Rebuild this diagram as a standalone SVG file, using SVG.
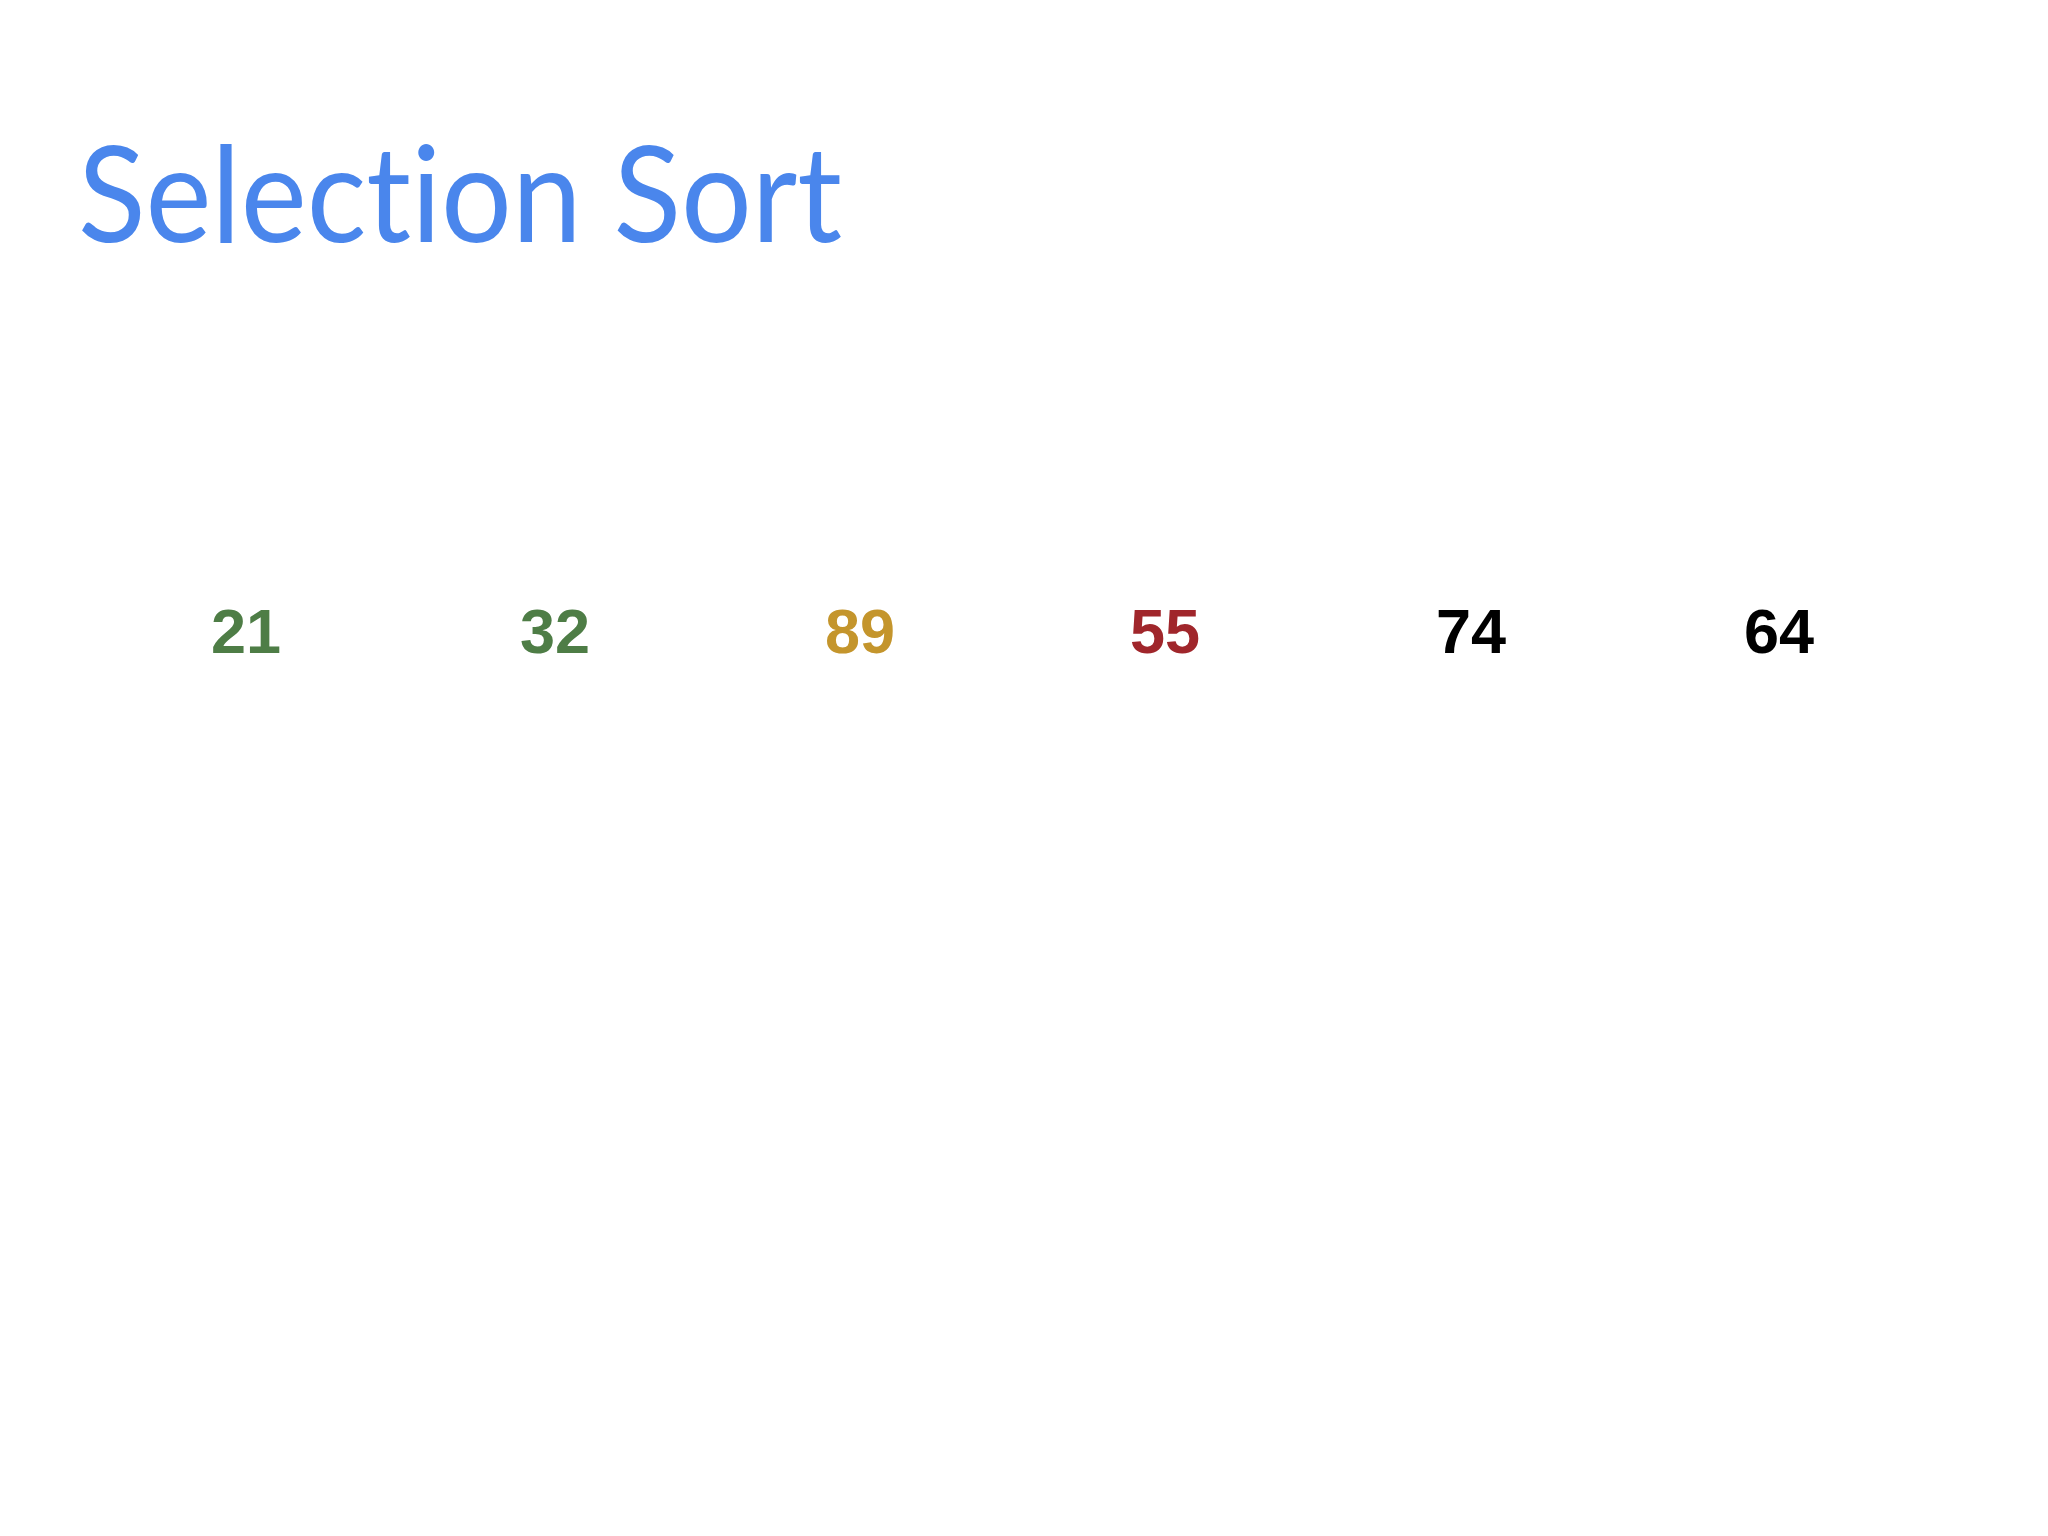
<svg xmlns="http://www.w3.org/2000/svg" width="2048" height="1536" viewBox="0 0 2048 1536">
<style>
.title{font-family:Lato,"Open Sans","Liberation Sans",sans-serif;font-size:133px;fill:#4a86ec;font-variant-ligatures:none;font-feature-settings:"liga" 0}
.num{font-family:"Liberation Sans",Arial,sans-serif;font-weight:bold;font-size:63px;text-anchor:middle}
</style>
<rect width="2048" height="1536" fill="#ffffff"/>
<text class="title" x="78" y="242" textLength="764" lengthAdjust="spacingAndGlyphs">Selection Sort</text>
<g id="n21"><text class="num" x="246" y="653" fill="#4e7d46">21</text></g>
<g id="n32"><text class="num" x="555" y="653" fill="#4e7d46">32</text></g>
<g id="n89"><text class="num" x="860" y="653" fill="#c4952c">89</text></g>
<g id="n55"><text class="num" x="1165" y="653" fill="#a0262b">55</text></g>
<g id="n74"><text class="num" x="1471" y="653" fill="#000000">74</text></g>
<g id="n64"><text class="num" x="1779" y="653" fill="#000000">64</text></g>
<g id="connectors"></g>
</svg>
